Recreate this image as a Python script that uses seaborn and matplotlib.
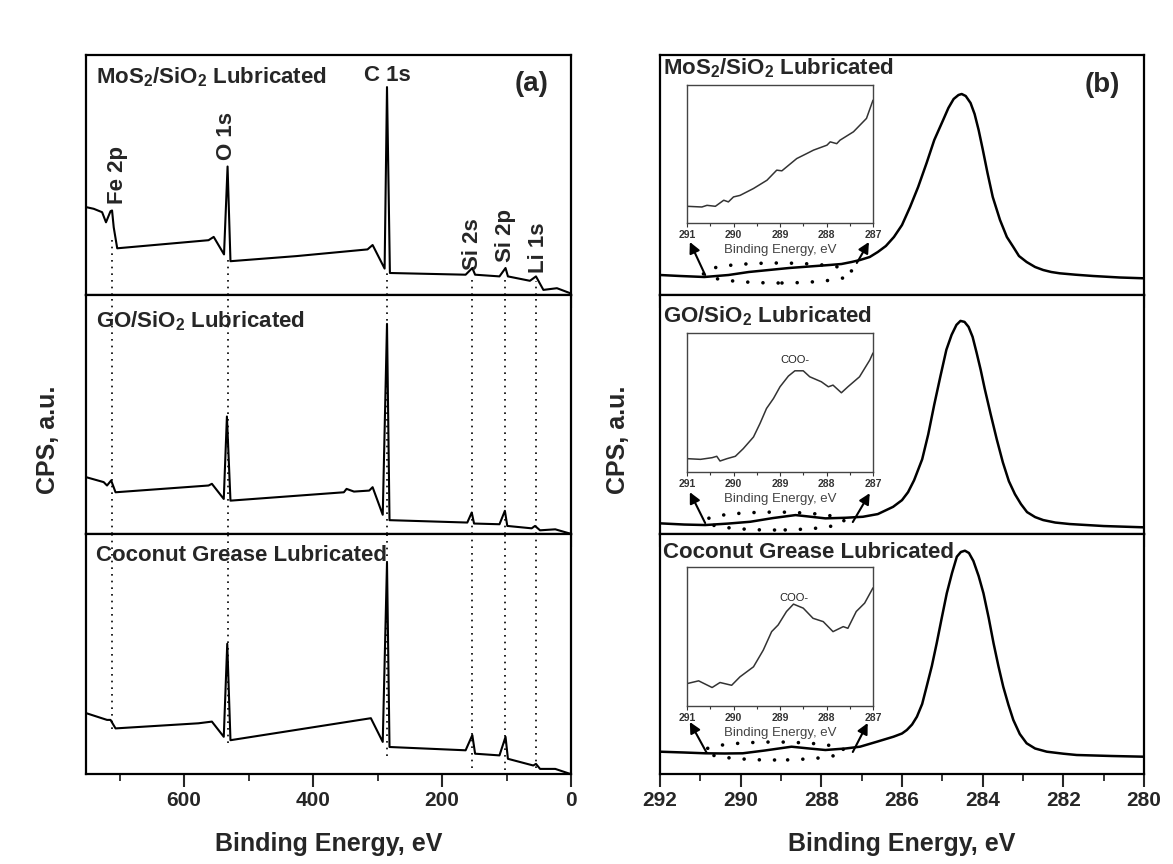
import numpy as np
import pandas as pd
import matplotlib
matplotlib.use('Agg')
import matplotlib.pyplot as plt
from matplotlib.patches import Ellipse
import seaborn as sns

sns.set_style('ticks')
plt.rcParams['font.family'] = ['Liberation Sans', 'DejaVu Sans']
plt.rcParams['font.weight'] = 'bold'
plt.rcParams['mathtext.fontset'] = 'custom'
plt.rcParams['mathtext.bf'] = 'Liberation Sans:bold'
plt.rcParams['mathtext.rm'] = 'Liberation Sans:bold'

# ---- survey spectra (a), binding energy in eV, counts in arbitrary units ----
mos2_ev = [752, 740, 727, 721, 714, 711.6, 709, 703.6, 562, 554, 538, 532.5, 528, 425.7,
           315.5, 307.6, 289, 285.3, 280.8, 163.4, 153, 148.7, 110.9, 101.5, 97.8, 63.7,
           54.3, 42.8, 21.8, 0.8]
mos2_cps = [87.9, 86.2, 82.8, 72.7, 83.8, 84.5, 67.6, 46.7, 54.8, 58.1, 40.6, 128.5, 33.8, 38.9,
            45.6, 50.0, 26.4, 207.9, 22.0, 20.3, 27.0, 20.3, 18.6, 27.0, 18.6, 14.2,
            18.6, 5.1, 6.8, 1.7]

go_ev = [752, 724.6, 719.4, 713, 706.2, 562, 556.8, 538.4, 533.5, 528, 352.2, 348, 336.5,
         312.9, 307.6, 291.9, 285.3, 281.4, 160.8, 153.9, 150.3, 110.9, 102.5, 98.8, 61,
         55.8, 48, 24.4, 0.8]
go_cps = [57.1, 52.1, 48.7, 53.8, 41.9, 48.7, 50.4, 35.2, 118, 33.5, 41.9, 45.3, 42.6,
          43.6, 47, 19.3, 211, 13.9, 11.5, 21.6, 10.5, 9.8, 23.3, 8.1, 5.7,
          8.1, 3.7, 4.7, 0.3]

coco_ev = [752, 719.4, 714, 706.2, 577.7, 556.8, 538.4, 533, 528, 310.3, 291.9, 285.3,
           281.4, 163.4, 153, 148.7, 110.9, 101.5, 97.8, 58.5, 54.3, 48, 24.4, 0.8]
coco_cps = [60.9, 54.1, 54.1, 45.6, 50.7, 52.4, 37.2, 130.2, 33.8, 55.8, 32.1, 211.3,
            27, 23.7, 38.9, 20.3, 18.6, 37.2, 15.2, 8.5, 10.1, 5.1, 5.1, 0]

peak_names = ['Fe 2p', 'O 1s', 'C 1s', 'Si 2s', 'Si 2p', 'Li 1s']
peak_ev = [712, 532.5, 285.3, 153, 102, 55]
# where the dotted guide lines start (top panel) and stop (bottom panel)
guide_top = [60, 40, 22, 20, 18, 14]
guide_bottom = [45, 31, 18, 6, 4, 6]

# ---- C 1s high resolution spectra (b) ----
c_mos2_ev = [292, 291.5, 290.9, 290.3, 289.8, 289.3, 288.8, 288.3, 287.8, 287.5, 287.25, 287.04,
             286.8, 286.6, 286.4, 286.2, 286.0, 285.8, 285.6, 285.39, 285.2, 284.98, 284.85,
             284.72, 284.6, 284.52, 284.42, 284.3, 284.2, 284.1, 284.0, 283.88, 283.75, 283.57,
             283.4, 283.24, 283.1, 282.91, 282.7, 282.5, 282.3, 282.09, 281.7, 281.26, 280.6, 280]
c_mos2_cps = [20, 19, 18, 20, 23, 25, 27, 28.5, 30, 31, 33, 35,
              38, 43, 49, 58, 70, 88, 108, 132, 155, 175, 187,
              196, 200, 201, 199, 192, 181, 165, 146, 122, 98, 75,
              58, 48, 39, 33, 28, 25, 23, 21.7, 20.3, 19, 17.5, 16.7]

c_go_ev = [292, 291.4, 290.88, 290.3, 289.76, 289.2, 288.64, 288.3, 287.9, 287.4, 286.97, 286.6,
           286.22, 286.0, 285.85, 285.7, 285.5, 285.35, 285.2, 285.05, 284.9, 284.77, 284.65,
           284.55, 284.45, 284.35, 284.25, 284.15, 284.05, 283.95, 283.8, 283.65, 283.5, 283.35,
           283.2, 283.05, 282.9, 282.7, 282.5, 282.2, 281.84, 281, 280]
c_go_cps = [10.7, 9.5, 9, 10.5, 12.3, 16, 19, 17.5, 15.7, 16.3, 17.3, 20,
            27.3, 34, 42, 54, 75, 100, 130, 158, 185, 200, 210,
            214, 213, 208, 198, 182, 165, 146, 120, 95, 72, 53,
            40, 30, 22, 17, 14, 11.5, 10, 8, 6.7]

c_coco_ev = [292, 291.4, 290.88, 290.4, 289.95, 289.4, 288.74, 288.3, 287.9, 287.4, 287.04, 286.62,
             286.21, 286.0, 285.88, 285.75, 285.63, 285.5, 285.39, 285.26, 285.14, 285.02, 284.89,
             284.76, 284.64, 284.54, 284.44, 284.34, 284.23, 284.1, 283.98, 283.85, 283.73, 283.61,
             283.49, 283.36, 283.24, 283.08, 282.91, 282.7, 282.41, 282.0, 281.67, 280.8, 280]
c_coco_cps = [22.3, 21.5, 20.7, 20.5, 20.7, 23.5, 27.3, 25.5, 24, 25.5, 27.3, 32.3,
              37.3, 40.5, 44, 49.5, 57.3, 70, 87.3, 108, 130.7, 155, 180.7,
              201, 217.3, 222, 223.3, 221, 213, 198, 180.7, 156, 130.7, 108,
              87.3, 69, 54, 40, 30.7, 25.5, 22.3, 20.3, 19, 18, 17.3]

# ---- insets: 291-287 eV zoom, normalised ----
in_mos2_ev = [291, 290.68, 290.57, 290.39, 290.21, 290.11, 290.0, 289.86, 289.57, 289.28, 289.07,
              288.96, 288.64, 288.42, 288.28, 287.99, 287.92, 287.78, 287.71, 287.42, 287.14, 287.0]
in_mos2_val = [0.121, 0.116, 0.128, 0.121, 0.165, 0.153, 0.189, 0.2, 0.25, 0.31, 0.383,
               0.378, 0.467, 0.504, 0.528, 0.564, 0.588, 0.575, 0.6, 0.661, 0.758, 0.89]

in_go_ev = [291, 290.71, 290.46, 290.36, 290.29, 290.14, 289.96, 289.79, 289.57, 289.43, 289.29,
            289.14, 289.0, 288.82, 288.68, 288.5, 288.36, 288.11, 287.96, 287.86, 287.68, 287.54,
            287.29, 287.07, 287.0]
in_go_val = [0.096, 0.091, 0.103, 0.113, 0.079, 0.096, 0.113, 0.168, 0.252, 0.349, 0.457,
             0.529, 0.613, 0.69, 0.728, 0.728, 0.685, 0.649, 0.613, 0.625, 0.57, 0.613,
             0.685, 0.805, 0.856]

in_coco_ev = [291, 290.75, 290.46, 290.29, 290.04, 289.86, 289.57, 289.36, 289.18, 289.04, 288.86,
              288.71, 288.5, 288.29, 288.07, 287.86, 287.64, 287.54, 287.36, 287.18, 287.0]
in_coco_val = [0.161, 0.181, 0.133, 0.169, 0.149, 0.21, 0.282, 0.402, 0.535, 0.583, 0.68,
               0.733, 0.704, 0.631, 0.607, 0.535, 0.571, 0.559, 0.68, 0.74, 0.85]

titles = [r'MoS$_{\mathbf{2}}$/SiO$_{\mathbf{2}}$ Lubricated',
          r'GO/SiO$_{\mathbf{2}}$ Lubricated',
          'Coconut Grease Lubricated']

survey = [(mos2_ev, mos2_cps), (go_ev, go_cps), (coco_ev, coco_cps)]
highres = [(c_mos2_ev, c_mos2_cps), (c_go_ev, c_go_cps), (c_coco_ev, c_coco_cps)]
insets = [(in_mos2_ev, in_mos2_val), (in_go_ev, in_go_val), (in_coco_ev, in_coco_val)]

fig = plt.figure(figsize=(11.73, 8.64), dpi=100)
W, H = 1173, 864


def px_axes(x0, y0, x1, y1):
    return fig.add_axes([x0 / W, 1 - y1 / H, (x1 - x0) / W, (y1 - y0) / H])


rows = [(55, 295), (295, 534), (534, 774)]
left_axes = [px_axes(86, r0, 571, r1) for r0, r1 in rows]
right_axes = [px_axes(660, r0, 1144, r1) for r0, r1 in rows]

left_title_y = [0.908, 0.892, 0.912]
right_title_y = [0.946, 0.912, 0.921]

for i, ax in enumerate(left_axes):
    ev, cps = survey[i]
    df = pd.DataFrame({'ev': ev, 'cps': cps})
    sns.lineplot(data=df, x='ev', y='cps', ax=ax, color='black', lw=1.5)
    ax.set_xlim(752, 0)
    ax.set_ylim(0, 240)
    ax.text(0.02, left_title_y[i], titles[i], transform=ax.transAxes, fontsize=16,
            fontweight='bold', ha='left', va='center')

for i, ax in enumerate(right_axes):
    ev, cps = highres[i]
    df = pd.DataFrame({'ev': ev, 'cps': cps})
    sns.lineplot(data=df, x='ev', y='cps', ax=ax, color='black', lw=1.8)
    ax.set_xlim(292, 280)
    ax.set_ylim(0, 240)
    ax.text(0.006, right_title_y[i], titles[i], transform=ax.transAxes, fontsize=16,
            fontweight='bold', ha='left', va='center')

for col in (left_axes, right_axes):
    for i, ax in enumerate(col):
        ax.set_xlabel('')
        ax.set_ylabel('')
        ax.set_yticks([])
        for s in ax.spines.values():
            s.set_linewidth(1.6)
            s.set_color('black')
        ax.tick_params(axis='x', direction='out', length=9, width=1.5, labelsize=15)
        if i < 2:
            ax.tick_params(axis='x', labelbottom=False)

for ax in left_axes:
    ax.set_xticks([600, 400, 200, 0])
for ax in right_axes:
    ax.set_xticks([292, 290, 288, 286, 284, 282, 280])
left_axes[2].set_xticks([700, 500, 300, 100], minor=True)
right_axes[2].set_xticks([291, 289, 287, 285, 283, 281], minor=True)
for ax in (left_axes[2], right_axes[2]):
    ax.tick_params(axis='x', which='minor', direction='out', length=5, width=1.3)
    for lab in ax.get_xticklabels():
        lab.set_fontweight('bold')

# dotted guide lines through the three survey panels
for k, e in enumerate(peak_ev):
    left_axes[0].vlines(e, 0, guide_top[k], color='black', lw=1.2, ls=(0, (1, 3)))
    left_axes[1].vlines(e, 0, 240, color='black', lw=1.2, ls=(0, (1, 3)))
    left_axes[2].vlines(e, guide_bottom[k], 240, color='black', lw=1.2, ls=(0, (1, 3)))

# peak labels
ax0 = left_axes[0]
label_pos = {'Fe 2p': (703.6, 120, 90), 'O 1s': (533.7, 159, 90), 'C 1s': (284, 219.5, 0),
             'Si 2s': (152, 50.5, 90), 'Si 2p': (101, 59, 90), 'Li 1s': (51, 47, 90)}
for name in peak_names:
    x, y, rot = label_pos[name]
    ax0.text(x, y, name, rotation=rot, fontsize=16, fontweight='bold', ha='center', va='center')
ax0.text(0.919, 0.879, '(a)', transform=ax0.transAxes, fontsize=20, fontweight='bold',
         ha='center', va='center')
right_axes[0].text(0.913, 0.875, '(b)', transform=right_axes[0].transAxes, fontsize=20,
                   fontweight='bold', ha='center', va='center')

# insets with dotted ellipse and arrows
inset_rows = [(85, 223), (333, 472), (567, 706)]
ellipses = [(289.07, 22, 3.72, 20), (289.16, 13, 3.44, 18), (289.16, 23, 3.47, 18)]
arrows = [[((290.88, 20), (291.26, 53)), ((287.12, 32), (286.82, 53))],
          [((290.88, 11), (291.26, 42)), ((287.22, 12), (286.8, 41))],
          [((290.84, 21), (291.26, 52)), ((287.22, 22), (286.85, 51))]]
coo_pos = [None, (288.68, 0.806), (288.71, 0.78)]

for i, (r0, r1) in enumerate(inset_rows):
    main = right_axes[i]
    cx, cy, w, h = ellipses[i]
    ell = Ellipse((cx, cy), w, h, fill=False, ec='black', lw=2.6, ls=(0, (0.01, 4.2)))
    ell.set_capstyle('round')
    main.add_patch(ell)
    for (start, end) in arrows[i]:
        main.annotate('', xy=end, xytext=start,
                      arrowprops=dict(arrowstyle='-|>', color='black', lw=1.5,
                                      mutation_scale=16, shrinkA=0, shrinkB=0))

    ins = px_axes(687, r0, 873, r1)
    ev, val = insets[i]
    df = pd.DataFrame({'ev': ev, 'val': val})
    sns.lineplot(data=df, x='ev', y='val', ax=ins, color='#333333', lw=1.1)
    ins.set_xlim(291, 287)
    ins.set_ylim(0, 1)
    ins.set_yticks([])
    ins.set_xticks([291, 290, 289, 288, 287])
    ins.set_xticks([290.5, 289.5, 288.5, 287.5], minor=True)
    ins.tick_params(axis='x', which='both', direction='out', length=3, width=0.8,
                    labelsize=7.5, pad=2, colors='#333333')
    ins.tick_params(axis='x', which='minor', length=2)
    for lab in ins.get_xticklabels():
        lab.set_fontweight('bold')
    ins.set_ylabel('')
    ins.set_xlabel('Binding Energy, eV', fontsize=9.5, fontweight='normal', color='#444444',
                   labelpad=3)
    for s in ins.spines.values():
        s.set_linewidth(1.0)
        s.set_color('#444444')
    if coo_pos[i] is not None:
        ins.text(coo_pos[i][0], coo_pos[i][1], 'COO-', fontsize=8, fontweight='normal',
                 color='#222222', ha='center', va='center')

fig.text(48 / W, 1 - 440 / H, 'CPS, a.u.', rotation=90, fontsize=18, fontweight='bold',
         ha='center', va='center')
fig.text(618 / W, 1 - 440 / H, 'CPS, a.u.', rotation=90, fontsize=18, fontweight='bold',
         ha='center', va='center')
fig.text(329 / W, 1 - 844 / H, 'Binding Energy, eV', fontsize=18, fontweight='bold',
         ha='center', va='center')
fig.text(902 / W, 1 - 844 / H, 'Binding Energy, eV', fontsize=18, fontweight='bold',
         ha='center', va='center')

fig.savefig('out.png', dpi=100, facecolor='white')
